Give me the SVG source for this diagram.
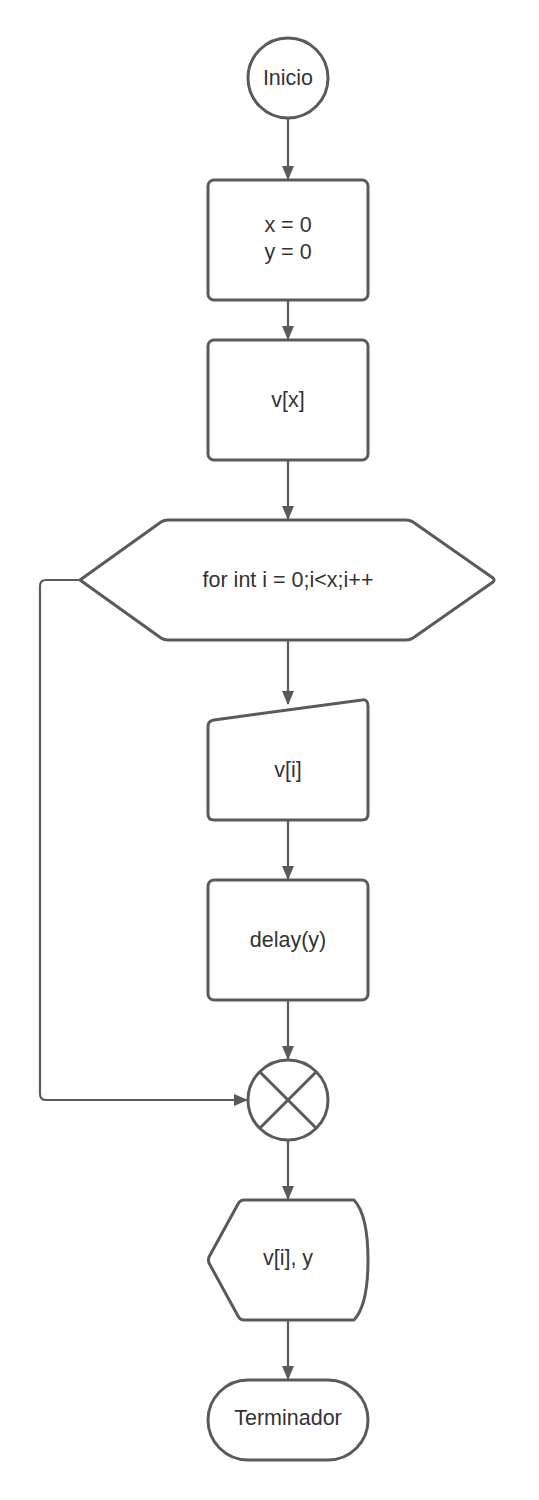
<svg xmlns="http://www.w3.org/2000/svg" width="539" height="1500" viewBox="0 0 539 1500">
<defs>
<style>
.s{fill:#fff;stroke:#5a5a5a;stroke-width:3;stroke-linejoin:round}
.c{fill:none;stroke:#5a5a5a;stroke-width:2.2;stroke-linejoin:round}
.t{font-family:"Liberation Sans",Arial,sans-serif;font-size:21.5px;fill:#333;text-anchor:middle;dominant-baseline:central}
</style>
<marker id="ah" markerWidth="14" markerHeight="12" refX="13" refY="6" orient="auto" markerUnits="userSpaceOnUse">
<path d="M0,0 L14,6 L0,12 Z" fill="#5a5a5a"/>
</marker>
</defs>
<rect width="539" height="1500" fill="#fff"/>
<g id="connectors">
<path class="c" d="M288,119 V179" marker-end="url(#ah)"/>
<path class="c" d="M288,301 V339" marker-end="url(#ah)"/>
<path class="c" d="M288,461 V519" marker-end="url(#ah)"/>
<path class="c" d="M288,641 V704" marker-end="url(#ah)"/>
<path class="c" d="M288,821 V879" marker-end="url(#ah)"/>
<path class="c" d="M288,1001 V1059" marker-end="url(#ah)"/>
<path class="c" d="M80,580 H46 Q40,580 40,586 V1094 Q40,1100 46,1100 H247" marker-end="url(#ah)"/>
<path class="c" d="M288,1141 V1199" marker-end="url(#ah)"/>
<path class="c" d="M288,1321 V1379" marker-end="url(#ah)"/>
</g>
<g id="inicio">
<circle class="s" cx="288" cy="78" r="40"/>
<text class="t" x="288" y="78">Inicio</text>
</g>
<g id="init">
<rect class="s" x="208" y="180" width="160" height="120" rx="6"/>
<text class="t" x="288" y="225">x = 0</text>
<text class="t" x="288" y="252">y = 0</text>
</g>
<g id="vx">
<rect class="s" x="208" y="340" width="160" height="120" rx="6"/>
<text class="t" x="288" y="400">v[x]</text>
</g>
<g id="for">
<path class="s" d="M80,580 L161,522 Q164,520 168,520 L406,520 Q410,520 413,522 L493,578 Q495,580 493,582 L413,638 Q410,640 406,640 L168,640 Q164,640 161,638 Z"/>
<text class="t" x="288" y="580">for int i = 0;i&lt;x;i++</text>
</g>
<g id="vi">
<path class="s" d="M214,720 L362,700 Q368,699 368,706 L368,814 Q368,820 362,820 L214,820 Q208,820 208,814 L208,726 Q208,721 214,720 Z"/>
<text class="t" x="288" y="770">v[i]</text>
</g>
<g id="delay">
<rect class="s" x="208" y="880" width="160" height="120" rx="6"/>
<text class="t" x="288" y="940">delay(y)</text>
</g>
<g id="junction">
<circle class="s" cx="288" cy="1100" r="40"/>
<path class="c" style="stroke-width:3" d="M259.7,1071.7 L316.3,1128.3 M316.3,1071.7 L259.7,1128.3"/>
</g>
<g id="display">
<path class="s" d="M244,1200 L354,1200 Q368,1215 368,1260 Q368,1305 354,1320 L244,1320 Q240,1320 238,1316 L209,1263 Q208,1260 209,1257 L238,1204 Q240,1200 244,1200 Z"/>
<text class="t" x="288" y="1258">v[i], y</text>
</g>
<g id="terminador">
<rect class="s" x="208" y="1380" width="160" height="80" rx="40"/>
<text class="t" x="288" y="1418">Terminador</text>
</g>
</svg>
